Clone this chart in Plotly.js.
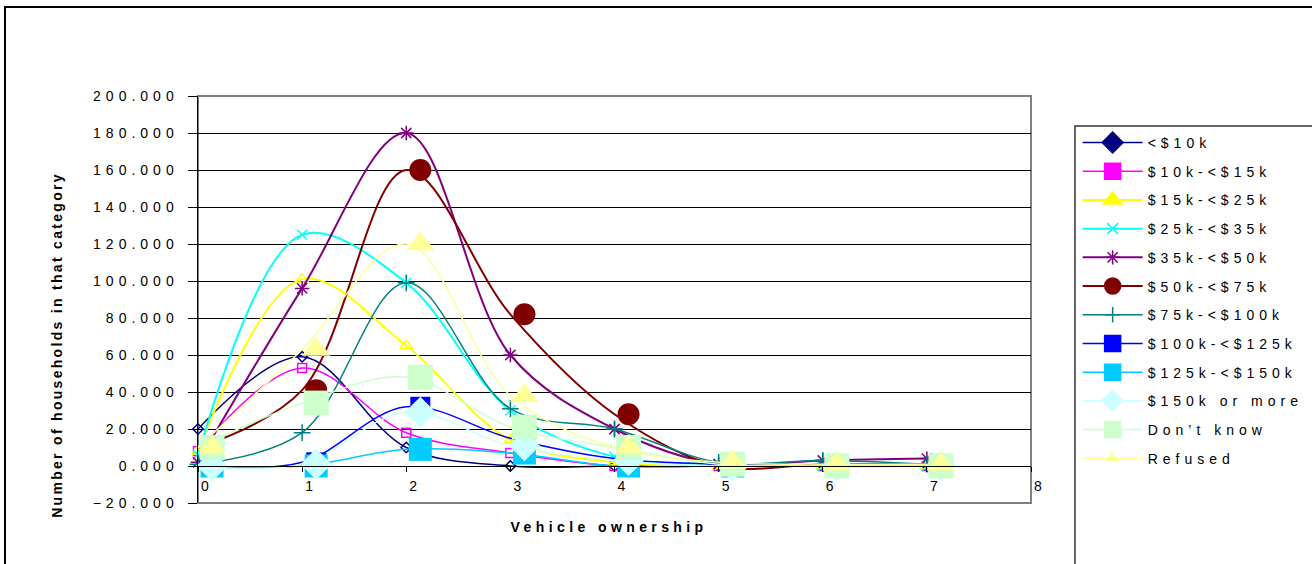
<!DOCTYPE html>
<html>
<head>
<meta charset="utf-8">
<script src="https://cdn.plot.ly/plotly-3.0.1.min.js"></script>
<style>
  html, body { margin: 0; padding: 0; background: #fff; }
  #chart { width: 1312px; height: 564px; }
  .ytick text, .legendtext { letter-spacing: 5px; }
  .annotation[data-index="0"] text { letter-spacing: 4.4px; }
  .annotation[data-index="1"] text { letter-spacing: 2.3px; }
</style>
</head>
<body>
<div id="chart"></div>
<script>
// Number of vehicles owned per household
const vehicles = [0, 1, 2, 3, 4, 5, 6, 7];

// Households per income band, by vehicle count
const incLt10k     = [20, 59, 10, 0, 0, 0, 0, 0];
const inc10to15k   = [8, 53, 18, 7, 0, 0, 0, 0];
const inc15to25k   = [8, 101, 65, 14, 2, 0, 0, 0];
const inc25to35k   = [6, 125, 99, 30, 5, 1, 0, 0];
const inc35to50k   = [2, 96, 180, 60, 20, 1, 3, 4];
const inc50to75k   = [10, 41, 160, 82, 28, 0, 1, 1];
const inc75to100k  = [1, 18, 99, 31, 20, 2, 3, 1];
const inc100to125k = [0, 2, 32, 15, 4, 1, 0, 0];
const inc125to150k = [0, 0, 9, 7, 0, 0, 0, 0];
const inc150kPlus  = [0, 1, 29, 11, 3, 0, 0, 0];
const incDontKnow  = [10, 34, 48, 21, 10, 1, 0, 0];
const incRefused   = [10, 63, 120, 38, 10, 2, 1, 1];

const seriesNames = ['<$10k', '$10k-<$15k', '$15k-<$25k', '$25k-<$35k', '$35k-<$50k',
  '$50k-<$75k', '$75k-<$100k', '$100k-<$125k', '$125k-<$150k', '$150k or more',
  'Don\u2019t know', 'Refused'];
const seriesValues = [incLt10k, inc10to15k, inc15to25k, inc25to35k, inc35to50k,
  inc50to75k, inc75to100k, inc100to125k, inc125to150k, inc150kPlus, incDontKnow, incRefused];

// Styling per series: line colour, in-plot marker, legend marker
const styles = [
  { color: '#000080', w: 1.5, sym: 'diamond-open', size: 8, big: false, lsym: 'diamond', lsize: 16 },
  { color: '#FF00FF', w: 1.5, sym: 'square-open', size: 9, big: false, lsym: 'square', lsize: 16 },
  { color: '#FFFF00', w: 2, sym: 'triangle-up-open', size: 11, big: false, lsym: 'triangle-up', lsize: 16 },
  { color: '#00FFFF', w: 2, sym: 'x-thin-open', size: 10, big: false, lsym: 'x-thin-open', lsize: 11 },
  { color: '#800080', w: 2, sym: 'asterisk-open', size: 12, big: false, lsym: 'asterisk-open', lsize: 12 },
  { color: '#800000', w: 2, sym: 'circle', size: 22, big: true, lsym: 'circle', lsize: 16 },
  { color: '#008080', w: 1.5, sym: 'cross-thin-open', size: 12, big: false, lsym: 'cross-thin-open', lsize: 11 },
  { color: '#0000FF', w: 1.5, sym: 'square', size: 20, big: true, lsym: 'square', lsize: 16 },
  { color: '#00CCFF', w: 1.5, sym: 'square', size: 23, big: true, lsym: 'square', lsize: 16 },
  { color: '#CCFFFF', w: 1.5, sym: 'diamond', size: 24, big: true, lsym: 'diamond', lsize: 16 },
  { color: '#CCFFCC', w: 1.5, sym: 'square', size: 25, big: true, lsym: 'square', lsize: 16 },
  { color: '#FFFF99', w: 1.5, sym: 'triangle-up', size: 25, big: true, lsym: 'triangle-up', lsize: 10 }
];

const traces = [];
seriesNames.forEach((name, i) => {
  const s = styles[i];
  // smoothed line, with the small open markers drawn on it
  traces.push({
    x: vehicles, y: seriesValues[i], type: 'scatter',
    mode: s.big ? 'lines' : 'lines+markers',
    line: { color: s.color, width: s.w, shape: 'spline', smoothing: 1 },
    marker: { symbol: s.sym, size: s.size, color: s.color, line: { color: s.color, width: 1.5 } },
    name: name, showlegend: false, hoverinfo: 'skip', cliponaxis: false
  });
});
// large filled markers, drawn on a slightly shifted overlay axis
seriesNames.forEach((name, i) => {
  const s = styles[i];
  if (!s.big) return;
  traces.push({
    x: vehicles, y: seriesValues[i], type: 'scatter', mode: 'markers',
    xaxis: 'x2',
    marker: { symbol: s.sym, size: s.size, color: s.color, line: { width: 0 } },
    name: name, showlegend: false, hoverinfo: 'skip', cliponaxis: false
  });
});
// legend entries
seriesNames.forEach((name, i) => {
  const s = styles[i];
  traces.push({
    x: [null], y: [null], type: 'scatter', mode: 'lines+markers',
    line: { color: s.color, width: s.w },
    marker: { symbol: s.lsym, size: s.lsize, color: s.color, line: { color: s.color, width: 1.5 } },
    name: name, legendgroup: 'g' + i, showlegend: true
  });
});

const font = 'Arial, "Liberation Sans", sans-serif';

const layout = {
  width: 1312, height: 564,
  margin: { l: 198, r: 281, t: 96, b: 61, pad: 0, autoexpand: false },
  paper_bgcolor: '#ffffff', plot_bgcolor: '#ffffff',
  font: { family: font, size: 14, color: '#000' },
  showlegend: true,
  xaxis: {
    range: [0, 8], dtick: 1, tick0: 0,
    showgrid: false, zeroline: false,
    showline: true, linecolor: '#000', linewidth: 1,
    ticks: 'outside', ticklen: 5, tickcolor: '#000',
    anchor: 'free', position: 20 / 220,
    tickfont: { family: font, size: 14, color: '#000' },
    ticklabelshift: 7, ticklabelstandoff: 2, fixedrange: true
  },
  xaxis2: {
    range: [-0.135, 7.865], overlaying: 'x', anchor: 'y', visible: false, fixedrange: true
  },
  yaxis: {
    range: [-20, 200], dtick: 20, tick0: 0, tickformat: '.3f',
    showgrid: true, gridcolor: '#000', gridwidth: 1, zeroline: false,
    showline: true, linecolor: '#000', linewidth: 1.5,
    ticks: 'outside', ticklen: 9, tickcolor: '#000', ticklabelstandoff: 6,
    tickfont: { family: font, size: 14, color: '#000' }, fixedrange: true
  },
  legend: {
    x: 1.056, xanchor: 'left', y: 0.924, yanchor: 'top',
    bgcolor: 'rgba(0,0,0,0)', borderwidth: 0,
    font: { family: font, size: 14, color: '#000' },
    itemwidth: 60, tracegroupgap: 7.5, itemclick: false, itemdoubleclick: false
  },
  shapes: [
    // outer chart frame
    { type: 'rect', xref: 'paper', yref: 'paper', x0: -0.2317, x1: 1.6, y0: -0.6, y1: 1.2187,
      line: { color: '#000', width: 2 }, layer: 'below' },
    // plot area frame
    { type: 'rect', xref: 'paper', yref: 'paper', x0: 0, x1: 1, y0: 0, y1: 1,
      line: { color: '#808080', width: 2 }, layer: 'below' },
    // legend frame
    { type: 'rect', xref: 'paper', yref: 'paper', x0: 1.0528, x1: 1.6, y0: -0.6, y1: 0.9263,
      line: { color: '#333', width: 1.5 }, layer: 'below' }
  ],
  annotations: [
    { text: '<b>Vehicle ownership</b>', xref: 'paper', yref: 'paper', x: 0.493, y: -0.059,
      xanchor: 'center', yanchor: 'middle', showarrow: false,
      font: { family: font, size: 14, color: '#000' } },
    { text: '<b>Number of households in that category</b>', xref: 'paper', yref: 'paper',
      x: -0.169, y: 0.388, textangle: -90, xanchor: 'center', yanchor: 'middle', showarrow: false,
      font: { family: font, size: 14, color: '#000' } }
  ]
};

Plotly.newPlot('chart', traces, layout, { displayModeBar: false, staticPlot: true });
</script>
</body>
</html>
